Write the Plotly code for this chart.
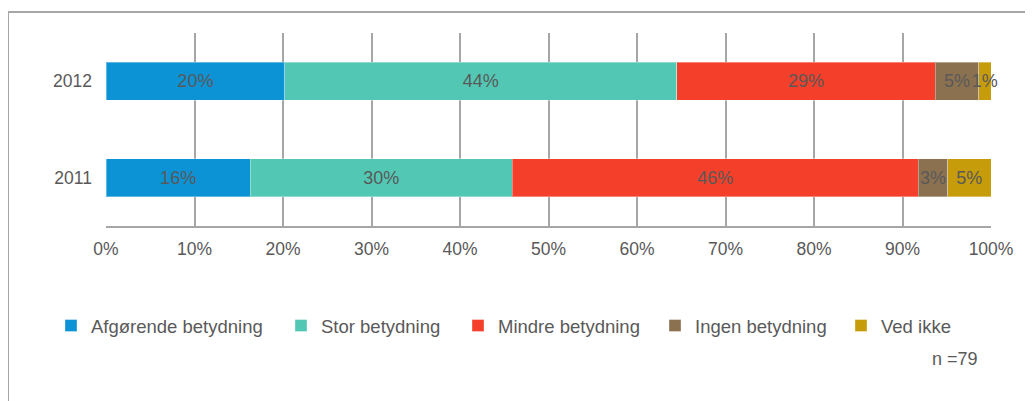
import plotly.graph_objects as go

years = ["2011", "2012"]
series_names = ["Afgørende betydning", "Stor betydning", "Mindre betydning", "Ingen betydning", "Ved ikke"]
vals_2011 = [16.3, 29.6, 45.9, 3.3, 4.9]
vals_2012 = [20.2, 44.3, 29.2, 4.9, 1.4]
labels_2011 = ["16%", "30%", "46%", "3%", "5%"]
labels_2012 = ["20%", "44%", "29%", "5%", "1%"]
colors = ["#0B93D5", "#52C8B4", "#F4402A", "#8C7150", "#C79C0B"]
x_ticks = [0, 10, 20, 30, 40, 50, 60, 70, 80, 90, 100]
x_tick_labels = [f"{t}%" for t in x_ticks]
note = "n =79"

FONT = "Liberation Sans, Arial, sans-serif"
TXT = "#595959"

# page body has an 8px margin; figure origin sits at window (8, 8)
OFF = 8
W, H = 1033 - OFF, 401 - OFF
L, R, T, B = 106 - OFF, 42, 33 - OFF, 175
pw = W - L - R
ph = H - T - B

def px_to_paper_x(px):  # px in window coordinates
    return (px - OFF - L) / pw

def px_to_paper_y(py):
    return (H - B - (py - OFF)) / ph

legend_text_px = [91, 321, 498, 695, 881]
legend_y_px = 326

fig = go.Figure()
for i, name in enumerate(series_names):
    lg = "legend" if i == 0 else f"legend{i+1}"
    fig.add_trace(go.Bar(
        y=years,
        x=[vals_2011[i] / 100, vals_2012[i] / 100],
        name=name,
        orientation="h",
        marker=dict(color=colors[i], line=dict(color="rgba(255,255,255,0.35)", width=1)),
        text=[labels_2011[i], labels_2012[i]],
        textposition="inside",
        insidetextanchor="middle",
        textangle=0,
        constraintext="none",
        textfont=dict(family=FONT, size=18, color=TXT),
        cliponaxis=False,
        width=0.39,
        legend=lg,
        hoverinfo="name+x",
    ))

layout_legends = {}
for i in range(len(series_names)):
    key = "legend" if i == 0 else f"legend{i+1}"
    layout_legends[key] = dict(
        x=px_to_paper_x(legend_text_px[i] - 40),
        xanchor="left",
        y=px_to_paper_y(legend_y_px),
        yanchor="middle",
        orientation="h",
        font=dict(family=FONT, size=18.5, color=TXT),
        bgcolor="rgba(0,0,0,0)",
        borderwidth=0,
        itemclick=False,
        itemdoubleclick=False,
    )

fig.update_layout(
    width=W, height=H,
    margin=dict(l=L, r=R, t=T, b=B),
    paper_bgcolor="white",
    plot_bgcolor="white",
    barmode="stack",
    showlegend=True,
    font=dict(family=FONT, size=17.5, color=TXT),
    xaxis=dict(
        range=[0, 1],
        tickvals=[t / 100 for t in x_ticks],
        ticktext=x_tick_labels,
        showgrid=True,
        gridcolor="#A6A6A6",
        gridwidth=2,
        zeroline=False,
        showline=True,
        linecolor="#A6A6A6",
        linewidth=2,
        ticks="",
        ticklabelstandoff=6,
        tickfont=dict(family=FONT, size=17.5, color=TXT),
        fixedrange=True,
    ),
    yaxis=dict(
        type="category",
        categoryorder="array",
        categoryarray=years,
        range=[-0.5, 1.5],
        showgrid=False,
        zeroline=False,
        showline=False,
        ticks="",
        ticklabelstandoff=13,
        tickfont=dict(family=FONT, size=17.5, color=TXT),
        fixedrange=True,
    ),
    shapes=[dict(
        type="rect", xref="paper", yref="paper",
        x0=px_to_paper_x(8), x1=1.3,
        y0=px_to_paper_y(12), y1=-1.5,
        line=dict(color="#A6A6A6", width=2),
        fillcolor="rgba(0,0,0,0)",
        layer="below",
    )],
    annotations=[dict(
        text=note, xref="paper", yref="paper",
        x=px_to_paper_x(955), y=px_to_paper_y(359),
        xanchor="center", yanchor="middle", showarrow=False,
        font=dict(family=FONT, size=18, color=TXT),
    )],
    **layout_legends,
)

fig.write_html("out.html")
